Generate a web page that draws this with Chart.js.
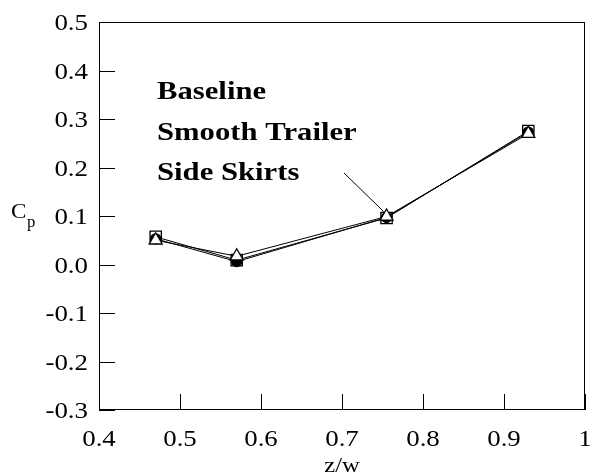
<!DOCTYPE html>
<html>
<head>
<meta charset="utf-8">
<script src="https://cdn.jsdelivr.net/npm/chart.js@4/dist/chart.umd.min.js"></script>
<style>
  html, body { margin: 0; padding: 0; background: #fff; }
  #wrap { width: 600px; height: 476px; }
</style>
</head>
<body>
<div id="wrap"><canvas id="c" width="600" height="476"></canvas></div>
<script>
// Pressure coefficient vs. spanwise position
const zw = [0.47, 0.57, 0.755, 0.93];
const baseline = [0.053, 0.006, 0.097, 0.273];
const smoothTrailer = [0.057, 0.009, 0.096, 0.275];
const sideSkirts = [0.050, 0.017, 0.099, 0.270];
const seriesNames = ['Baseline', 'Smooth Trailer', 'Side Skirts'];
const xTicks = [0.4, 0.5, 0.6, 0.7, 0.8, 0.9, 1.0];
const yTicks = [-0.3, -0.2, -0.1, 0.0, 0.1, 0.2, 0.3, 0.4, 0.5];

const pts = vals => zw.map((x, i) => ({ x, y: vals[i] }));
const serif = '"Liberation Serif", "Times New Roman", serif';
const fmtX = v => (v === 1 ? '1' : v.toFixed(1));
const fmtY = v => v.toFixed(1);

// text drawn a little wide, like the typeset figure
function wideText(ctx, str, x, y, align, font, sx) {
  ctx.save();
  ctx.font = font;
  const w = ctx.measureText(str).width * sx;
  let x0 = x;
  if (align === 'center') x0 = x - w / 2;
  else if (align === 'right') x0 = x - w;
  ctx.translate(x0, y);
  ctx.scale(sx, 1);
  ctx.textAlign = 'left';
  ctx.textBaseline = 'alphabetic';
  ctx.fillText(str, 0, 0);
  ctx.restore();
}

// Frame, inward tick marks, tick labels, axis titles and the text key with its pointer
const decorations = {
  id: 'decorations',
  afterDatasetsDraw(chart) {
    const { ctx, chartArea: a, scales: { x, y } } = chart;
    ctx.save();
    ctx.strokeStyle = '#000';
    ctx.fillStyle = '#000';
    ctx.lineWidth = 1;
    ctx.strokeRect(a.left + 0.5, a.top + 0.5, a.right - a.left - 1, a.bottom - a.top - 1);
    const tl = 16;
    ctx.beginPath();
    xTicks.forEach(v => {
      const px = Math.round(x.getPixelForValue(v)) + 0.5;
      ctx.moveTo(px, a.bottom);
      ctx.lineTo(px, a.bottom - tl);
    });
    yTicks.forEach(v => {
      const py = Math.round(y.getPixelForValue(v)) + 0.5;
      ctx.moveTo(a.left, py);
      ctx.lineTo(a.left + tl, py);
    });
    ctx.stroke();

    const tickFont = '24px ' + serif;
    xTicks.forEach(v => wideText(ctx, fmtX(v), x.getPixelForValue(v), a.bottom + 36, 'center', tickFont, 1.12));
    yTicks.forEach(v => wideText(ctx, fmtY(v), a.left - 11, y.getPixelForValue(v) + 8, 'right', tickFont, 1.12));

    // y title: C with subscript p
    wideText(ctx, 'C', 11, 218, 'left', '22px ' + serif, 1.05);
    wideText(ctx, 'p', 27, 227, 'left', '16px ' + serif, 1.05);

    // x title
    wideText(ctx, 'z/w', (a.left + a.right) / 2, 472, 'center', '22px ' + serif, 1.12);

    // key text
    seriesNames.forEach((name, i) =>
      wideText(ctx, name, 157, 99 + i * 40.5, 'left', 'bold 26px ' + serif, 1.18));

    // pointer from the key to the 0.755 station
    ctx.beginPath();
    ctx.moveTo(344, 173);
    ctx.lineTo(x.getPixelForValue(zw[2]) - 3, y.getPixelForValue(sideSkirts[2]) - 5);
    ctx.stroke();
    ctx.restore();
  }
};

const common = {
  showLine: true,
  borderColor: '#000',
  borderWidth: 1,
  pointBorderColor: '#000',
  pointBorderWidth: 1.3,
  pointHoverRadius: 0
};

new Chart(document.getElementById('c'), {
  type: 'scatter',
  data: {
    datasets: [
      Object.assign({}, common, {
        label: seriesNames[0], data: pts(baseline), order: 2,
        pointStyle: 'circle', pointRadius: 5, pointBackgroundColor: '#000'
      }),
      Object.assign({}, common, {
        label: seriesNames[1], data: pts(smoothTrailer), order: 3,
        pointStyle: 'rect', pointRadius: 8, pointBackgroundColor: '#fff'
      }),
      Object.assign({}, common, {
        label: seriesNames[2], data: pts(sideSkirts), order: 1,
        pointStyle: 'triangle', pointRadius: 7.5, pointBackgroundColor: '#fff'
      })
    ]
  },
  options: {
    responsive: false,
    animation: false,
    events: [],
    layout: { padding: { top: 22, right: 15, left: 0, bottom: 0 } },
    plugins: { legend: { display: false }, tooltip: { enabled: false } },
    scales: {
      x: {
        type: 'linear', min: 0.4, max: 1.0,
        afterBuildTicks: s => { s.ticks = xTicks.map(v => ({ value: v })); },
        afterFit: s => { s.height = 66; },
        grid: { display: false, drawTicks: false },
        border: { display: false },
        ticks: { display: false }
      },
      y: {
        type: 'linear', min: -0.3, max: 0.5,
        afterBuildTicks: s => { s.ticks = yTicks.map(v => ({ value: v })); },
        afterFit: s => { s.width = 99; },
        grid: { display: false, drawTicks: false },
        border: { display: false },
        ticks: { display: false }
      }
    }
  },
  plugins: [decorations]
});
</script>
</body>
</html>
